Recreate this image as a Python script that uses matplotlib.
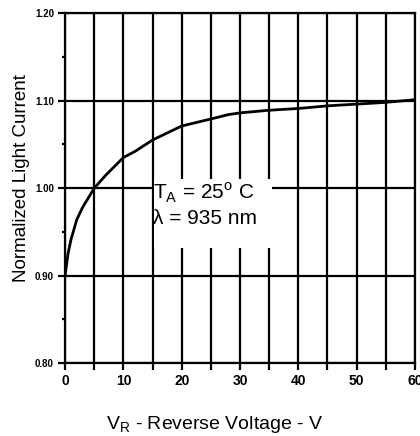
import numpy as np
import matplotlib
matplotlib.use('Agg')
from matplotlib import pyplot as plt
from matplotlib.ticker import MultipleLocator
from matplotlib.patches import Rectangle

# curve: reverse voltage (V) vs normalized light current
v_r = [0, 0.5, 1, 2, 3, 4, 5, 7, 10, 12, 15, 20, 25, 28, 30, 35, 40, 45, 50, 55, 60]
i_norm = [0.900, 0.925, 0.941, 0.964, 0.978, 0.989, 1.000, 1.015, 1.035, 1.042,
          1.055, 1.071, 1.079, 1.084, 1.086, 1.089, 1.091, 1.094, 1.096, 1.098, 1.101]

yticks = [0.80, 0.90, 1.00, 1.10, 1.20]
ytick_labels = ['0.80', '0.90', '1.00', '1.10', '1.20']

plt.rcParams['font.family'] = ['Liberation Sans', 'DejaVu Sans']
narrow = ['Liberation Sans Narrow', 'Liberation Sans', 'DejaVu Sans']

fig = plt.figure(figsize=(4.2, 4.36), dpi=100)
ax = fig.add_axes([0.155, 0.167, 0.833, 0.803])

ax.plot(v_r, i_norm, color='black', lw=2.0, zorder=3)

ax.set_xlim(0, 60)
ax.set_ylim(0.80, 1.20)
ax.xaxis.set_major_locator(MultipleLocator(10))
ax.xaxis.set_minor_locator(MultipleLocator(5))
ax.set_yticks(yticks)
ax.set_yticklabels(ytick_labels)
ax.yaxis.set_minor_locator(MultipleLocator(0.05))

ax.grid(True, which='major', color='black', lw=1.6)
ax.grid(True, which='minor', axis='x', color='black', lw=1.6)
for s in ax.spines.values():
    s.set_linewidth(1.6)
ax.tick_params(which='major', direction='out', length=5, width=1.6, colors='black')
ax.tick_params(which='minor', axis='x', direction='out', length=5, width=1.6)
ax.tick_params(which='minor', axis='y', direction='out', length=2, width=1.6)

for lab in ax.get_yticklabels():
    lab.set_family(narrow)
    lab.set_fontweight('bold')
    lab.set_fontsize(7)
for lab in ax.get_xticklabels():
    lab.set_family(narrow)
    lab.set_fontweight('bold')
    lab.set_fontsize(10)
ax.tick_params(axis='x', pad=3)
ax.tick_params(axis='y', pad=3)

ax.set_ylabel('Normalized Light Current', fontsize=13.5)
ax.yaxis.set_label_coords(-0.1, 0.53)
fig.text(215 / 420, 1 - 424 / 436, 'V$_\\mathregular{R}$ - Reverse Voltage - V',
         fontsize=14, ha='center', va='center')

# white box behind the conditions text (hides the grid there)
ax.add_patch(Rectangle((15.2, 0.932), 20.2, 0.078, facecolor='white',
                       edgecolor='none', zorder=2.5))
ax.text(15.15, 0.987, 'T$_\\mathregular{A}$ = 25$^\\mathregular{o}$ C',
        fontsize=15, va='baseline', ha='left', zorder=4)
ax.text(15.15, 0.9586, '\u03bb = 935 nm',
        fontsize=15, va='baseline', ha='left', zorder=4)

fig.savefig('out.png', dpi=100)
